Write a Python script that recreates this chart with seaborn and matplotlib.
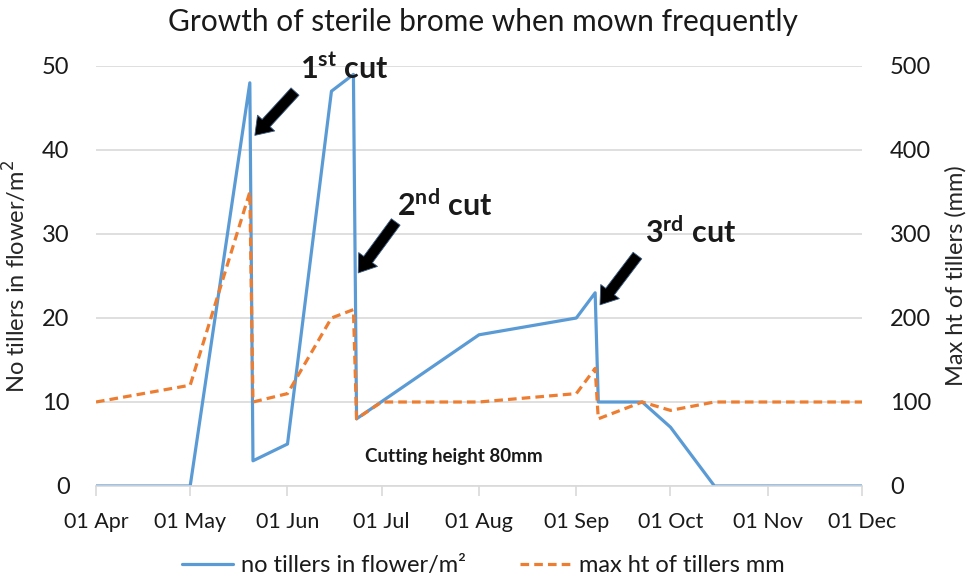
import pandas as pd
import numpy as np
import matplotlib
matplotlib.use("Agg")
import matplotlib.pyplot as plt
import matplotlib.dates as mdates
import seaborn as sns

# data
tiller_dates = ["2014-04-01", "2014-05-01", "2014-05-20", "2014-05-21", "2014-06-01",
                "2014-06-15", "2014-06-22", "2014-06-23", "2014-08-01", "2014-09-01",
                "2014-09-07", "2014-09-08", "2014-09-22", "2014-10-01", "2014-10-15",
                "2014-12-01"]
tillers = [0, 0, 48, 3, 5, 47, 49, 8, 18, 20, 23, 10, 10, 7, 0, 0]

height_dates = ["2014-04-01", "2014-05-01", "2014-05-20", "2014-05-21", "2014-06-01",
                "2014-06-15", "2014-06-22", "2014-06-23", "2014-07-01", "2014-08-01",
                "2014-09-01", "2014-09-07", "2014-09-08", "2014-09-22", "2014-10-01",
                "2014-10-15", "2014-12-01"]
max_height = [100, 120, 350, 100, 110, 200, 210, 80, 100, 100, 110, 140, 80, 100, 90, 100, 100]

month_ticks = ["2014-04-01", "2014-05-01", "2014-06-01", "2014-07-01", "2014-08-01",
               "2014-09-01", "2014-10-01", "2014-11-01", "2014-12-01"]

df_t = pd.DataFrame({"date": pd.to_datetime(tiller_dates), "tillers": tillers})
df_h = pd.DataFrame({"date": pd.to_datetime(height_dates), "height": max_height})

sns.set_theme(style="white")
plt.rcParams["font.family"] = ["Lato", "DejaVu Sans"]
plt.rcParams["text.color"] = "#1a1a1a"
plt.rcParams["xtick.labelcolor"] = "#1a1a1a"
plt.rcParams["ytick.labelcolor"] = "#1a1a1a"

blue = "#5B9BD5"
orange = "#ED7D31"
grid = "#D9D9D9"

fig = plt.figure(figsize=(9.66, 5.77), dpi=100)
ax = fig.add_axes([96 / 966, 1 - 486 / 577, (862 - 96) / 966, (486 - 66) / 577])
ax2 = ax.twinx()

sns.lineplot(data=df_t, x="date", y="tillers", ax=ax, color=blue, linewidth=2.3,
             label="no tillers in flower/m²", legend=False)
sns.lineplot(data=df_h, x="date", y="height", ax=ax2, color=orange, linewidth=2.3,
             linestyle=(0, (2.7, 1.6)), label="max ht of tillers mm", legend=False)

x0, x1 = pd.Timestamp(month_ticks[0]), pd.Timestamp(month_ticks[-1])
ax.set_xlim(x0, x1)
ax.set_ylim(0, 50)
ax2.set_ylim(0, 500)
ax.set_yticks(range(0, 51, 10))
ax2.set_yticks(range(0, 501, 100))
ax.set_xticks(pd.to_datetime(month_ticks))
ax.xaxis.set_major_formatter(mdates.DateFormatter("%d %b"))

for a in (ax, ax2):
    for s in a.spines.values():
        s.set_visible(False)
ax.spines["bottom"].set_visible(True)
ax.spines["bottom"].set_color(grid)
ax.spines["bottom"].set_linewidth(1.2)
ax.yaxis.grid(True, color=grid, linewidth=1.2)
ax.set_axisbelow(True)
ax.tick_params(axis="x", length=7, width=1.2, color=grid, direction="out",
               labelsize=15.5, pad=12, bottom=True)
ax.tick_params(axis="y", length=0, labelsize=17, pad=19, left=True)
ax2.tick_params(axis="y", length=0, labelsize=17, pad=20, right=True)

ax.set_xlabel("")
ax.set_ylabel("No tillers in flower/m$^2$", fontsize=17, labelpad=9)
ax2.set_ylabel("Max ht of tillers (mm)", fontsize=17, labelpad=10)

fig.text(0.5, 1 - 22 / 577, "Growth of sterile brome when mown frequently",
         fontsize=21.5, ha="center", va="center")

# cut annotations
arrow = dict(arrowstyle="simple,head_width=1.4,head_length=1.0,tail_width=0.65",
             facecolor="black", edgecolor="#3A5A80", linewidth=0.6)
cuts = [("1$^{\\mathregular{st}}$ cut", "2014-05-21", 41.5, "2014-06-04", 47.2, "2014-06-05", 49.7),
        ("2$^{\\mathregular{nd}}$ cut", "2014-06-23", 25.1, "2014-07-06", 31.7, "2014-07-06", 33.4),
        ("3$^{\\mathregular{rd}}$ cut", "2014-09-08", 21.3, "2014-09-21", 27.7, "2014-09-23", 30.2)]
for txt, hx, hy, tx, ty, lx, ly in cuts:
    ax.annotate("", xy=(pd.Timestamp(hx), hy), xytext=(pd.Timestamp(tx), ty),
                arrowprops=arrow, zorder=5)
    ax.text(pd.Timestamp(lx), ly, txt, fontsize=22, fontweight="bold",
            ha="left", va="center", zorder=6)

ax.text(pd.Timestamp("2014-07-24"), 3.5, "Cutting height 80mm", fontsize=13.5,
        fontweight="bold", ha="center", va="center")

h1, l1 = ax.get_legend_handles_labels()
h2, l2 = ax2.get_legend_handles_labels()
fig.legend(h1 + h2, l1 + l2, loc="lower center", ncol=2, frameon=False,
           fontsize=17, bbox_to_anchor=(0.5, -0.035), handlelength=2.2,
           columnspacing=2.3, handletextpad=0.3)

fig.savefig("out.png", dpi=100)
